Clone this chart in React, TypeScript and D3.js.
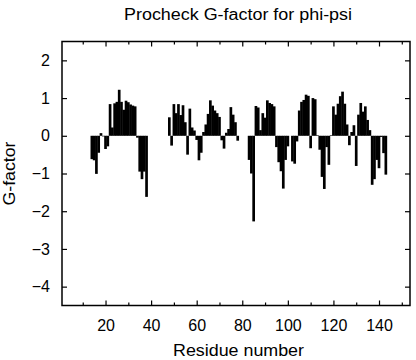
import React, { useEffect, useRef } from "react";
import * as d3 from "d3";

const width = 416;
const height = 360;
const margin = { top: 41.5, right: 6, bottom: 54.5, left: 62 };
const font = "'Liberation Sans', Arial, Helvetica, sans-serif";

// first residue of each stretch of bars
const segmentStarts = [14, 48, 83, 102];

const segment1 = [
  -0.62, -0.65, -1.01, -0.45, 0.07, 0, -0.35, -0.28, 0.84, 0.22, 0.86, 0.9,
  1.22, 0.9, 0.69, 0.93, 0.89, 0.83, 0.8, 0.78, -0.05, -0.95, -1.15, -0.95,
  -1.62,
];
const segment2 = [
  0.49, -0.26, 0.84, 0.6, 0.84, 0.55, 0.81, 0.36, -0.5, 0.72, 0.22, 0.14,
  -0.11, -0.65, -0.45, 0.1, 0.3, 0.58, 0.94, 0.8, 0.67, 0.6, 0.5, -0.12, -0.34,
  0.08, 0.18, 0.76, 0.56, 0.36, -0.13,
];
const segment3 = [
  -0.64, -1.0, -2.27, 0.79, 0.75, 0.15, 0.6, 0.48, 0.94, 0.87, 0.84, 0.78,
  -0.3, -0.7, -0.94, -1.4, -0.64, -0.28,
];
const segment4 = [
  -0.68, -0.74, -0.15, 0.67, 0.9, 0.95, 1.09, 1.06, -0.33, 1.0, 0.97, 0.01,
  -0.37, -1.09, -1.41, -0.3, -0.77, 0.01, 0.78, 0.56, 0.85, 1.05, 1.17, 0.85,
  0.3, -0.25, 0.1, 0.28, -0.8, 0.56, 0.87, 0.64, 0.78, 0.42, 0.15, -1.3, -1.15,
  -0.64, -0.86, -0.03, -0.46, -1.03,
];

const xMajorTicks = [20, 40, 60, 80, 100, 120, 140];
const xMinorTicks = [10, 30, 50, 70, 90, 110, 130, 150];
const yTicks = [-4, -3, -2, -1, 0, 1, 2];

const data = [segment1, segment2, segment3, segment4].flatMap((seg, i) =>
  seg.map((v, j) => ({ residue: segmentStarts[i] + j, value: v }))
);

export default function App() {
  const xBottomRef = useRef(null);
  const xBottomMinorRef = useRef(null);
  const xTopRef = useRef(null);
  const xTopMinorRef = useRef(null);
  const yLeftRef = useRef(null);
  const yRightRef = useRef(null);

  const xScale = d3
    .scaleLinear()
    .domain([0.9, 153.6])
    .range([margin.left, width - margin.right]);

  const yScale = d3
    .scaleLinear()
    .domain([-4.5, 2.5])
    .range([height - margin.bottom, margin.top]);

  const barWidth = xScale(1) - xScale(0);

  useEffect(() => {
    const clean = (g) => {
      g.select(".domain").remove();
      g.selectAll(".tick line").attr("stroke", "#000").attr("stroke-width", 1.2);
      g.selectAll("text")
        .attr("font-family", font)
        .attr("font-size", 16)
        .attr("fill", "#000");
    };

    d3.select(xBottomRef.current)
      .call(
        d3
          .axisBottom(xScale)
          .tickValues(xMajorTicks)
          .tickSizeInner(-5)
          .tickSizeOuter(0)
          .tickPadding(14)
          .tickFormat(d3.format("d"))
      )
      .call(clean);
    d3.select(xBottomMinorRef.current)
      .call(
        d3.axisBottom(xScale).tickValues(xMinorTicks).tickSize(-3).tickFormat(() => "")
      )
      .call(clean);
    d3.select(xTopRef.current)
      .call(
        d3.axisTop(xScale).tickValues(xMajorTicks).tickSize(-5).tickFormat(() => "")
      )
      .call(clean);
    d3.select(xTopMinorRef.current)
      .call(
        d3.axisTop(xScale).tickValues(xMinorTicks).tickSize(-3).tickFormat(() => "")
      )
      .call(clean);
    d3.select(yLeftRef.current)
      .call(
        d3
          .axisLeft(yScale)
          .tickValues(yTicks)
          .tickSizeInner(-5)
          .tickSizeOuter(0)
          .tickPadding(12)
          .tickFormat(d3.format("d"))
      )
      .call(clean);
    d3.select(yRightRef.current)
      .call(
        d3.axisRight(yScale).tickValues(yTicks).tickSize(-5).tickFormat(() => "")
      )
      .call(clean);
  }, []);

  const plotTop = margin.top;
  const plotBottom = height - margin.bottom;
  const plotLeft = margin.left;
  const plotRight = width - margin.right;

  return (
    <svg
      width={width}
      height={height}
      style={{ position: "absolute", left: 0, top: 0, background: "#fff" }}
    >
      <rect x={0} y={0} width={width} height={height} fill="#fff" />
      <text
        x={238}
        y={20}
        textAnchor="middle"
        fontFamily={font}
        fontSize={16}
        textLength={228}
        lengthAdjust="spacingAndGlyphs"
      >
        Procheck G-factor for phi-psi
      </text>

      {data.map((d, i) => (
        <rect
          key={i}
          x={xScale(d.residue - 0.5) - 0.2}
          y={yScale(Math.max(0, d.value))}
          width={barWidth + 0.4}
          height={Math.max(0.6, Math.abs(yScale(d.value) - yScale(0)))}
          fill="#000"
        />
      ))}

      <g ref={xBottomRef} transform={`translate(0, ${plotBottom})`} />
      <g ref={xBottomMinorRef} transform={`translate(0, ${plotBottom})`} />
      <g ref={xTopRef} transform={`translate(0, ${plotTop})`} />
      <g ref={xTopMinorRef} transform={`translate(0, ${plotTop})`} />
      <g ref={yLeftRef} transform={`translate(${plotLeft}, 0)`} />
      <g ref={yRightRef} transform={`translate(${plotRight}, 0)`} />

      <rect
        x={plotLeft}
        y={plotTop}
        width={plotRight - plotLeft}
        height={plotBottom - plotTop}
        fill="none"
        stroke="#000"
        strokeWidth={1.5}
      />

      <text
        x={238.5}
        y={356}
        textAnchor="middle"
        fontFamily={font}
        fontSize={16}
        textLength={131}
        lengthAdjust="spacingAndGlyphs"
      >
        Residue number
      </text>
      <text
        transform={`translate(15, ${(plotTop + plotBottom) / 2}) rotate(-90)`}
        textAnchor="middle"
        fontFamily={font}
        fontSize={16}
        textLength={64}
        lengthAdjust="spacingAndGlyphs"
      >
        G-factor
      </text>
    </svg>
  );
}
